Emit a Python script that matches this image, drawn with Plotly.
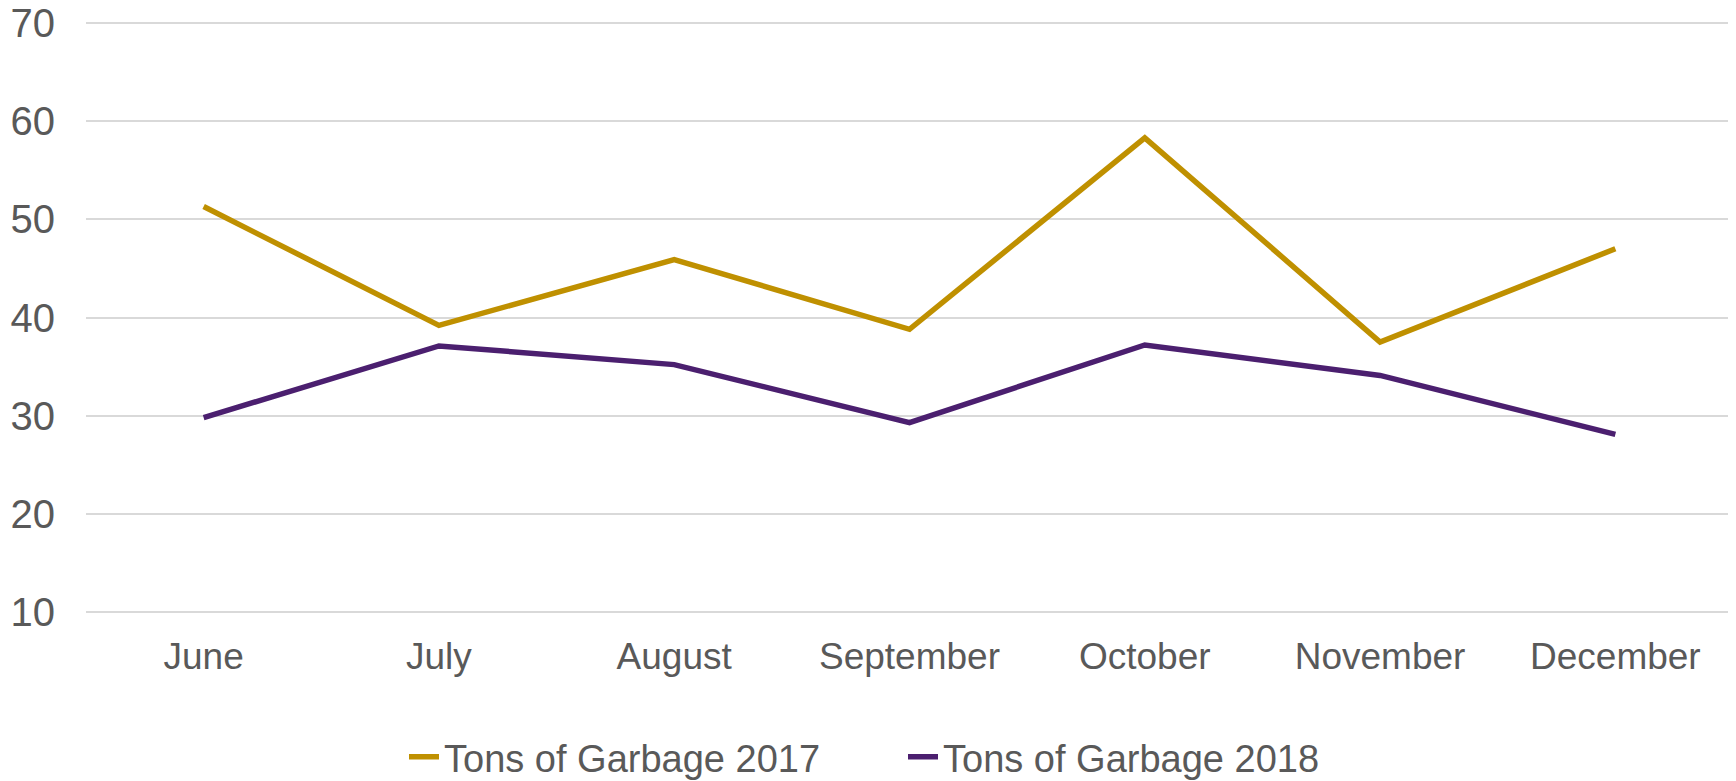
import plotly.graph_objects as go

months = ["June", "July", "August", "September", "October", "November", "December"]
tons_2017 = [51.3, 39.2, 45.9, 38.8, 58.3, 37.5, 47.0]
tons_2018 = [29.8, 37.1, 35.2, 29.3, 37.2, 34.1, 28.1]
y_ticks = [10, 20, 30, 40, 50, 60, 70]

FONT = "Arial, 'Liberation Sans', sans-serif"
GREY = "#595959"

fig = go.Figure()
fig.add_trace(go.Scatter(x=months, y=tons_2017, mode="lines", name="Tons of Garbage 2017",
                         line=dict(color="#BF9000", width=5.5)))
fig.add_trace(go.Scatter(x=months, y=tons_2018, mode="lines", name="Tons of Garbage 2018",
                         line=dict(color="#4B1F6F", width=5.5)))

fig.update_layout(
    width=1728, height=773,
    margin=dict(l=78, r=3, t=10, b=164, autoexpand=False),
    paper_bgcolor="white", plot_bgcolor="white",
    font=dict(family=FONT, size=37, color=GREY),
    showlegend=True,
    legend=dict(orientation="h", x=(396 - 78) / 1647, xanchor="left",
                y=-(749 - 609) / 599, yanchor="middle",
                font=dict(size=38, color=GREY), entrywidth=454, entrywidthmode="pixels",
                bgcolor="rgba(0,0,0,0)"),
    xaxis=dict(type="category", range=[-0.5, 6.5], showgrid=False, showline=False,
               zeroline=False, ticks="", ticklabelstandoff=14, automargin=False,
               tickfont=dict(size=37, color=GREY)),
    yaxis=dict(range=[9.5, 70.5], tickvals=y_ticks, showgrid=True, gridcolor="#D9D9D9",
               gridwidth=1.5, zeroline=False, showline=False, ticks="", automargin=False,
               ticklabeloverflow="allow",
               ticklabelstandoff=30, tickfont=dict(size=40, color=GREY)),
)

fig.write_html("out.html")
